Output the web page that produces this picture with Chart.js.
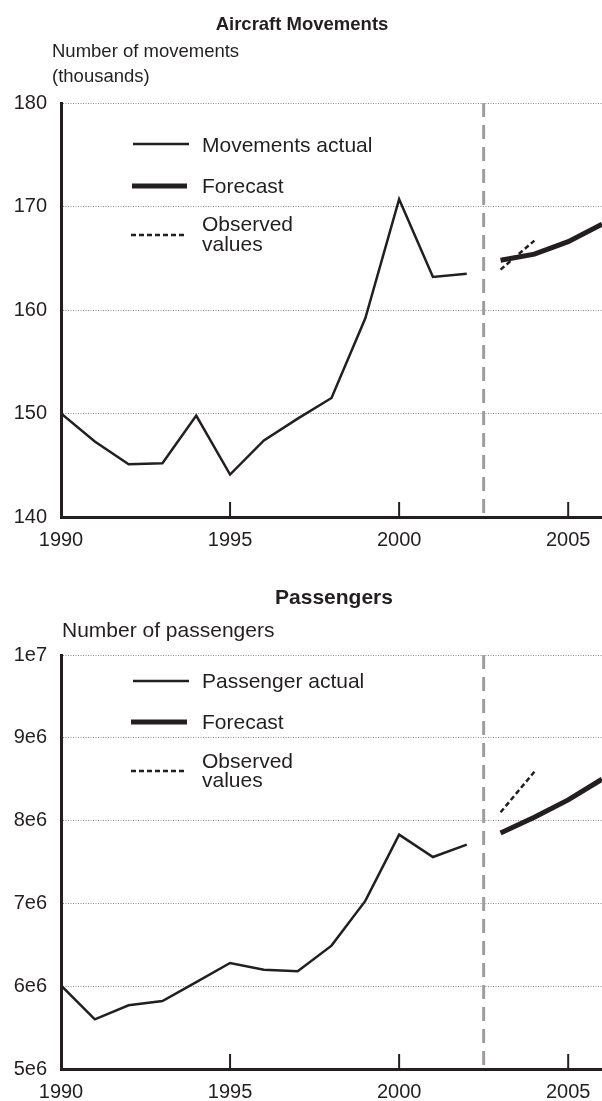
<!DOCTYPE html>
<html>
<head>
<meta charset="utf-8">
<script src="https://cdn.jsdelivr.net/npm/chart.js@4.4.1/dist/chart.umd.min.js"></script>
<style>
  html, body { margin: 0; padding: 0; background: #fff; }
  .bloc { position: absolute; left: 0; width: 602px; }
  #bloc-movements { top: 0; height: 551px; }
  #bloc-passengers { top: 551px; height: 550px; }
</style>
</head>
<body>
<div class="bloc" id="bloc-movements"><canvas id="movementsChart" width="602" height="551"></canvas></div>
<div class="bloc" id="bloc-passengers"><canvas id="passengersChart" width="602" height="550"></canvas></div>
<script>
// ============================================================
// Data
// ============================================================
const actualYears = [1990, 1991, 1992, 1993, 1994, 1995, 1996, 1997, 1998, 1999, 2000, 2001, 2002];
const forecastYears = [2003, 2004, 2005, 2006];
const observedYears = [2003, 2004];
const dividerYear = 2002.5;
const xTickValues = [1990, 1995, 2000, 2005];

// Aircraft movements (thousands)
const movementsActual = [150.0, 147.3, 145.1, 145.2, 149.8, 144.1, 147.4, 149.5, 151.5, 159.2, 170.7, 163.2, 163.5];
const movementsForecast = [164.8, 165.4, 166.6, 168.3];
const movementsObserved = [163.9, 166.7];
const movementsTicks = [140, 150, 160, 170, 180];
const movementsTickLabels = ['140', '150', '160', '170', '180'];

// Passengers
const passengersActual = [6.01e6, 5.60e6, 5.77e6, 5.82e6, 6.05e6, 6.28e6, 6.20e6, 6.18e6, 6.49e6, 7.03e6, 7.83e6, 7.56e6, 7.71e6];
const passengersForecast = [7.85e6, 8.04e6, 8.25e6, 8.50e6];
const passengersObserved = [8.10e6, 8.59e6];
const passengersTicks = [5e6, 6e6, 7e6, 8e6, 9e6, 1e7];
const passengersTickLabels = ['5e6', '6e6', '7e6', '8e6', '9e6', '1e7'];

// ============================================================
// Style
// ============================================================
const INK = '#231f20';
const FONT = '"Liberation Sans", Arial, Helvetica, sans-serif';

function paires(xs, ys) {
    return xs.map(function (x, i) { return { x: x, y: ys[i] }; });
}

// Titles, axis caption, legend and inner tick marks
const habillage = {
    id: 'habillage',
    afterDraw: function (chart, args, opts) {
        const ctx = chart.ctx;
        const area = chart.chartArea;
        ctx.save();
        ctx.fillStyle = INK;
        ctx.textBaseline = 'alphabetic';

        // title
        ctx.textAlign = 'center';
        ctx.font = 'bold ' + opts.titleSize + 'px ' + FONT;
        ctx.fillText(opts.title, opts.titleX, opts.titleY);

        // y axis caption
        ctx.textAlign = 'left';
        ctx.font = opts.captionSize + 'px ' + FONT;
        opts.caption.forEach(function (line, i) {
            ctx.fillText(line, opts.captionX, opts.captionY[i]);
        });

        // inner tick marks on the x axis
        const xs = chart.scales.x;
        ctx.strokeStyle = INK;
        ctx.lineWidth = 2;
        xTickValues.forEach(function (v) {
            const px = xs.getPixelForValue(v);
            ctx.beginPath();
            ctx.moveTo(px, area.bottom);
            ctx.lineTo(px, area.bottom - 15);
            ctx.stroke();
        });

        // legend
        ctx.font = '21px ' + FONT;
        opts.legend.forEach(function (item) {
            ctx.beginPath();
            ctx.lineWidth = item.width;
            ctx.setLineDash(item.dash || []);
            ctx.moveTo(item.x1, area.top + item.dy);
            ctx.lineTo(item.x2, area.top + item.dy);
            ctx.stroke();
            ctx.setLineDash([]);
            item.text.forEach(function (t, i) {
                ctx.fillText(t, 202, area.top + item.ty[i]);
            });
        });
        ctx.restore();
    }
};

function creerGraphique(id, cfg) {
    return new Chart(document.getElementById(id).getContext('2d'), {
        type: 'line',
        data: {
            datasets: [
                {
                    data: paires(actualYears, cfg.actual),
                    borderColor: INK, borderWidth: 2.5
                },
                {
                    data: paires(forecastYears, cfg.forecast),
                    borderColor: INK, borderWidth: 5
                },
                {
                    data: paires(observedYears, cfg.observed),
                    borderColor: INK, borderWidth: 2.5, borderDash: [5, 3]
                },
                {
                    data: [{ x: dividerYear, y: cfg.ticks[cfg.ticks.length - 1] }, { x: dividerYear, y: cfg.ticks[0] }],
                    borderColor: '#9d9d9d', borderWidth: 3, borderDash: [14, 8]
                }
            ]
        },
        options: {
            responsive: false,
            animation: false,
            events: [],
            elements: {
                point: { radius: 0 },
                line: { tension: 0, borderCapStyle: 'butt', borderJoinStyle: 'miter' }
            },
            layout: { padding: { top: cfg.top, left: 0, right: 0, bottom: 0 } },
            plugins: {
                legend: { display: false },
                tooltip: { enabled: false },
                habillage: cfg.habillage
            },
            scales: {
                x: {
                    type: 'linear',
                    min: 1990,
                    max: 2006,
                    afterBuildTicks: function (s) {
                        s.ticks = xTickValues.map(function (v) { return { value: v }; });
                    },
                    afterFit: function (s) { s.height = cfg.xHeight; },
                    ticks: {
                        autoSkip: false,
                        maxRotation: 0,
                        padding: 11,
                        color: INK,
                        font: { family: FONT, size: 20 },
                        callback: function (v) { return String(v); }
                    },
                    grid: { display: false, drawTicks: false },
                    border: { color: INK, width: 3 }
                },
                y: {
                    type: 'linear',
                    min: cfg.ticks[0],
                    max: cfg.ticks[cfg.ticks.length - 1],
                    afterBuildTicks: function (s) {
                        s.ticks = cfg.ticks.map(function (v) { return { value: v }; });
                    },
                    afterFit: function (s) { s.width = 61; },
                    ticks: {
                        padding: 14,
                        color: INK,
                        font: { family: FONT, size: 20 },
                        callback: function (v) { return cfg.labels[cfg.ticks.indexOf(v)]; }
                    },
                    grid: { color: '#8a8a8a', lineWidth: 1, drawTicks: false },
                    border: { color: INK, width: 3, dash: [1, 1.5] }
                }
            }
        },
        plugins: [habillage]
    });
}

creerGraphique('movementsChart', {
    actual: movementsActual,
    forecast: movementsForecast,
    observed: movementsObserved,
    ticks: movementsTicks,
    labels: movementsTickLabels,
    top: 103,
    xHeight: 34,
    habillage: {
        title: 'Aircraft Movements', titleSize: 18.5, titleX: 302, titleY: 29.5,
        caption: ['Number of movements', '(thousands)'], captionSize: 18.5, captionX: 52, captionY: [56.5, 81.5],
        legend: [
            { x1: 133, x2: 189, dy: 41, width: 2.5, text: ['Movements actual'], ty: [49] },
            { x1: 132, x2: 187, dy: 83, width: 5, text: ['Forecast'], ty: [90] },
            { x1: 131, x2: 185, dy: 132, width: 2.5, dash: [5, 3], text: ['Observed', 'values'], ty: [128, 148] }
        ]
    }
});

creerGraphique('passengersChart', {
    actual: passengersActual,
    forecast: passengersForecast,
    observed: passengersObserved,
    ticks: passengersTicks,
    labels: passengersTickLabels,
    top: 104,
    xHeight: 32,
    habillage: {
        title: 'Passengers', titleSize: 21, titleX: 334, titleY: 52.5,
        caption: ['Number of passengers'], captionSize: 21, captionX: 62, captionY: [85.5],
        legend: [
            { x1: 133, x2: 189, dy: 26, width: 2.5, text: ['Passenger actual'], ty: [33] },
            { x1: 131, x2: 187, dy: 67, width: 5, text: ['Forecast'], ty: [74] },
            { x1: 131, x2: 185, dy: 116, width: 2.5, dash: [5, 3], text: ['Observed', 'values'], ty: [113, 132] }
        ]
    }
});
</script>
</body>
</html>
